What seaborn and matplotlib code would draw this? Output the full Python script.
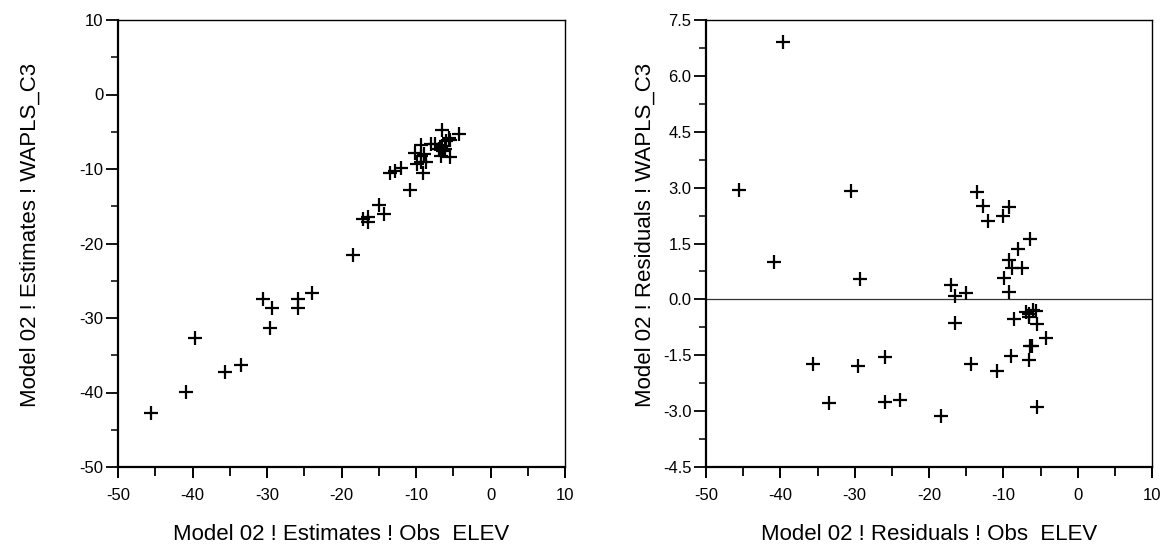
import matplotlib
matplotlib.use("Agg")
import matplotlib.pyplot as plt
import matplotlib.ticker as mtick
import seaborn as sns
import pandas as pd

obs = [-39.6, -45.6, -30.5, -40.9, -29.3, -35.6, -29.6, -25.9, -33.5, -25.9,
       -23.9, -18.4, -17.1, -16.5, -15.0, -16.5, -14.3, -13.5, -12.8, -12.0,
       -10.1, -9.3, -10.85, -6.45, -8.0, -9.3, -8.9, -7.5, -9.9, -9.3,
       -8.6, -9.0, -6.6, -6.9, -6.5, -5.95, -5.6, -6.6, -5.5, -4.2,
       -6.35, -6.1, -5.5]
# estimates (left panel)
estimates = [-32.7, -42.7, -27.4, -39.9, -28.6, -37.3, -31.4, -27.4, -36.3, -28.7,
             -26.6, -21.5, -16.7, -16.4, -14.8, -17.1, -16.0, -10.6, -10.3, -9.9,
             -7.85, -6.8, -12.8, -4.8, -6.6, -8.25, -8.05, -6.65, -9.3, -9.1,
             -9.1, -10.5, -8.2, -7.25, -6.9, -6.2, -5.9, -7.05, -6.15, -5.25,
             -7.6, -7.35, -8.4]
# residuals (right panel)
residuals = [6.92, 2.94, 2.91, 1.0, 0.54, -1.74, -1.79, -1.54, -2.78, -2.76,
             -2.69, -3.14, 0.39, 0.08, 0.16, -0.64, -1.74, 2.87, 2.51, 2.11,
             2.25, 2.48, -1.91, 1.63, 1.36, 1.05, 0.84, 0.84, 0.57, 0.21,
             -0.53, -1.53, -1.62, -0.35, -0.38, -0.28, -0.32, -0.46, -0.65, -1.05,
             -1.26, -1.26, -2.9]

df = pd.DataFrame({"obs": obs, "est": estimates, "res": residuals})

sns.set_style("ticks")
plt.rcParams["font.family"] = ["Liberation Sans", "DejaVu Sans"]
plt.rcParams["axes.unicode_minus"] = False

fig = plt.figure(figsize=(11.64, 5.47), dpi=100)
ax1 = fig.add_axes([118 / 1164, 80 / 547, 447 / 1164, 447 / 547])
ax2 = fig.add_axes([706 / 1164, 80 / 547, 446 / 1164, 447 / 547])

sns.scatterplot(data=df, x="obs", y="est", marker="+", s=90, color="black",
                linewidth=1.6, ax=ax1)
sns.scatterplot(data=df, x="obs", y="res", marker="+", s=90, color="black",
                linewidth=1.6, ax=ax2)
ax2.axhline(0, color="#333333", linewidth=0.9, zorder=0)

ax1.set_ylim(-50, 10)
ax1.yaxis.set_major_locator(mtick.MultipleLocator(10))
ax1.yaxis.set_minor_locator(mtick.MultipleLocator(5))
ax2.set_ylim(-4.5, 7.5)
ax2.yaxis.set_major_locator(mtick.MultipleLocator(1.5))
ax2.yaxis.set_minor_locator(mtick.MultipleLocator(0.75))
ax2.yaxis.set_major_formatter(mtick.FormatStrFormatter("%.1f"))

for ax in (ax1, ax2):
    ax.set_xlim(-50, 10)
    ax.xaxis.set_major_locator(mtick.MultipleLocator(10))
    ax.xaxis.set_minor_locator(mtick.MultipleLocator(5))
    ax.tick_params(axis="both", which="both", direction="out", color="black",
                   labelcolor="black", labelsize=12)
    ax.tick_params(axis="x", which="major", length=8, width=1.4, pad=7)
    ax.tick_params(axis="x", which="minor", length=6.5, width=1.3)
    ax.tick_params(axis="y", which="major", length=8.5, width=1.3, pad=2)
    ax.tick_params(axis="y", which="minor", length=5, width=1.1)
    for s in ("left", "bottom"):
        ax.spines[s].set_linewidth(1.6)
    for s in ("top", "right"):
        ax.spines[s].set_linewidth(1.0)
    for s in ax.spines.values():
        s.set_color("black")

ax1.set_xlabel("Model 02 ! Estimates ! Obs  ELEV", fontsize=16, color="black")
ax1.set_ylabel("Model 02 ! Estimates ! WAPLS_C3", fontsize=16, color="black")
ax2.set_xlabel("Model 02 ! Residuals ! Obs  ELEV", fontsize=16, color="black")
ax2.set_ylabel("Model 02 ! Residuals ! WAPLS_C3", fontsize=16, color="black")
ax1.xaxis.set_label_coords(0.5, -0.128)
ax2.xaxis.set_label_coords(0.5, -0.128)
ax1.yaxis.set_label_coords(-0.172, 0.52)
ax2.yaxis.set_label_coords(-0.112, 0.52)

fig.savefig("out.png", dpi=100, facecolor="white")
